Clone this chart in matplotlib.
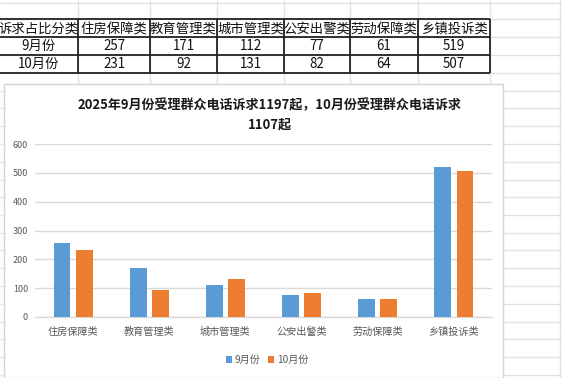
import matplotlib
matplotlib.use("Agg")
import matplotlib.pyplot as plt
from matplotlib.patches import Rectangle, Patch

plt.rcParams['font.family'] = ['Noto Sans CJK SC', 'DejaVu Sans']

# ---- data ----
categories = ['住房保障类', '教育管理类', '城市管理类', '公安出警类', '劳动保障类', '乡镇投诉类']
sep_values = [257, 171, 112, 77, 61, 519]
oct_values = [231, 92, 131, 82, 64, 507]
series_names = ['9月份', '10月份']
header_label = '诉求占比分类'
title_lines = ['2025年9月份受理群众电话诉求1197起，10月份受理群众电话诉求', '1107起']
y_ticks = [0, 100, 200, 300, 400, 500, 600]

W, H = 562, 378
fig = plt.figure(figsize=(W / 100, H / 100), dpi=100)

# ---- spreadsheet background (pixel coordinates) ----
bg = fig.add_axes([0, 0, 1, 1])
bg.set_xlim(0, W)
bg.set_ylim(H, 0)
bg.axis('off')

grid_rows = [2.7, 19.3, 37.3, 55, 73, 90.7, 108.3, 126, 144, 162, 179.7, 197.3,
             215, 232.7, 250.3, 268.3, 286, 303.7, 321.7, 339.3, 357, 375]
grid_cols = [78, 150, 217, 284, 350, 418, 490, 560]
bg.hlines(grid_rows, 0, W, color='#e2e2e2', lw=1.0, zorder=1)
bg.vlines(grid_cols, 0, H, color='#e2e2e2', lw=1.0, zorder=1)

# table
t_rows = [19.3, 37.3, 55, 73]
t_cols = [0, 78, 150, 217, 284, 350, 418, 490]
bg.hlines(t_rows, 0, 490, color='#222222', lw=1.3, zorder=2)
bg.vlines(t_cols[1:], t_rows[0], t_rows[-1], color='#222222', lw=1.3, zorder=2)

fs_tab = 9.6
row_centers = [(t_rows[i] + t_rows[i + 1]) / 2 for i in range(3)]
col_centers = [(t_cols[i] + t_cols[i + 1]) / 2 for i in range(7)]

txt = bg.text(col_centers[0], row_centers[0], header_label, ha='center', va='center',
              fontsize=fs_tab, color='#111111', zorder=3)
clip = Rectangle((0, t_rows[0]), 77.5, t_rows[1] - t_rows[0], transform=bg.transData)
txt.set_clip_path(clip)
for j, c in enumerate(categories):
    bg.text(col_centers[j + 1], row_centers[0], c, ha='center', va='center',
            fontsize=fs_tab, color='#111111', zorder=3)
for i, (name, vals) in enumerate(zip(series_names, [sep_values, oct_values])):
    bg.text(col_centers[0], row_centers[i + 1], name, ha='center', va='center',
            fontsize=fs_tab, color='#111111', zorder=3)
    for j, v in enumerate(vals):
        bg.text(col_centers[j + 1], row_centers[i + 1], str(v), ha='center', va='center',
                fontsize=fs_tab, color='#111111', zorder=3)

# chart box
bg.add_patch(Rectangle((4, 84), 499, 293.5, facecolor='white', edgecolor='#d4d4d4',
                       lw=1.0, zorder=4))

# ---- chart ----
px_l, px_r, px_top, px_bot = 35, 492, 144, 317
ax = fig.add_axes([px_l / W, (H - px_bot) / H, (px_r - px_l) / W, (px_bot - px_top) / H])
ax.set_facecolor('none')

blue, orange = '#5B9BD5', '#ED7D31'
x = list(range(len(categories)))
bw, off = 0.22, 0.145
ax.bar([i - off for i in x], sep_values, width=bw, color=blue, zorder=3, label=series_names[0])
ax.bar([i + off for i in x], oct_values, width=bw, color=orange, zorder=3, label=series_names[1])

ax.set_xlim(-0.5, len(categories) - 0.5)
ax.set_ylim(0, 600)
ax.set_yticks(y_ticks)
ax.set_yticklabels([str(t) for t in y_ticks])
ax.yaxis.grid(True, color='#d9d9d9', lw=1.0, zorder=0)
ax.set_xticks(x)
ax.set_xticklabels(categories)
for s in ['top', 'right', 'left']:
    ax.spines[s].set_visible(False)
ax.spines['bottom'].set_color('#d9d9d9')
ax.spines['bottom'].set_linewidth(1.0)
ax.tick_params(axis='y', length=0, pad=5, labelsize=6.5, labelcolor='#595959')
ax.tick_params(axis='x', length=0, pad=7, labelsize=7.3, labelcolor='#595959')

# title
fig.text(270 / W, (H - 105) / H, title_lines[0], ha='center', va='center',
         fontsize=9.4, fontweight='bold', color='#1a1a1a')
fig.text(270 / W, (H - 124) / H, title_lines[1], ha='center', va='center',
         fontsize=9.4, fontweight='bold', color='#1a1a1a')

# legend
handles = [Patch(facecolor=blue), Patch(facecolor=orange)]
fig.legend(handles, series_names, loc='center', bbox_to_anchor=(267 / W, (H - 360) / H),
           ncol=2, frameon=False, fontsize=7.3, handlelength=0.6, handleheight=0.6,
           handletextpad=0.3, columnspacing=0.7, labelcolor='#595959')

fig.savefig('out.png', dpi=100)
